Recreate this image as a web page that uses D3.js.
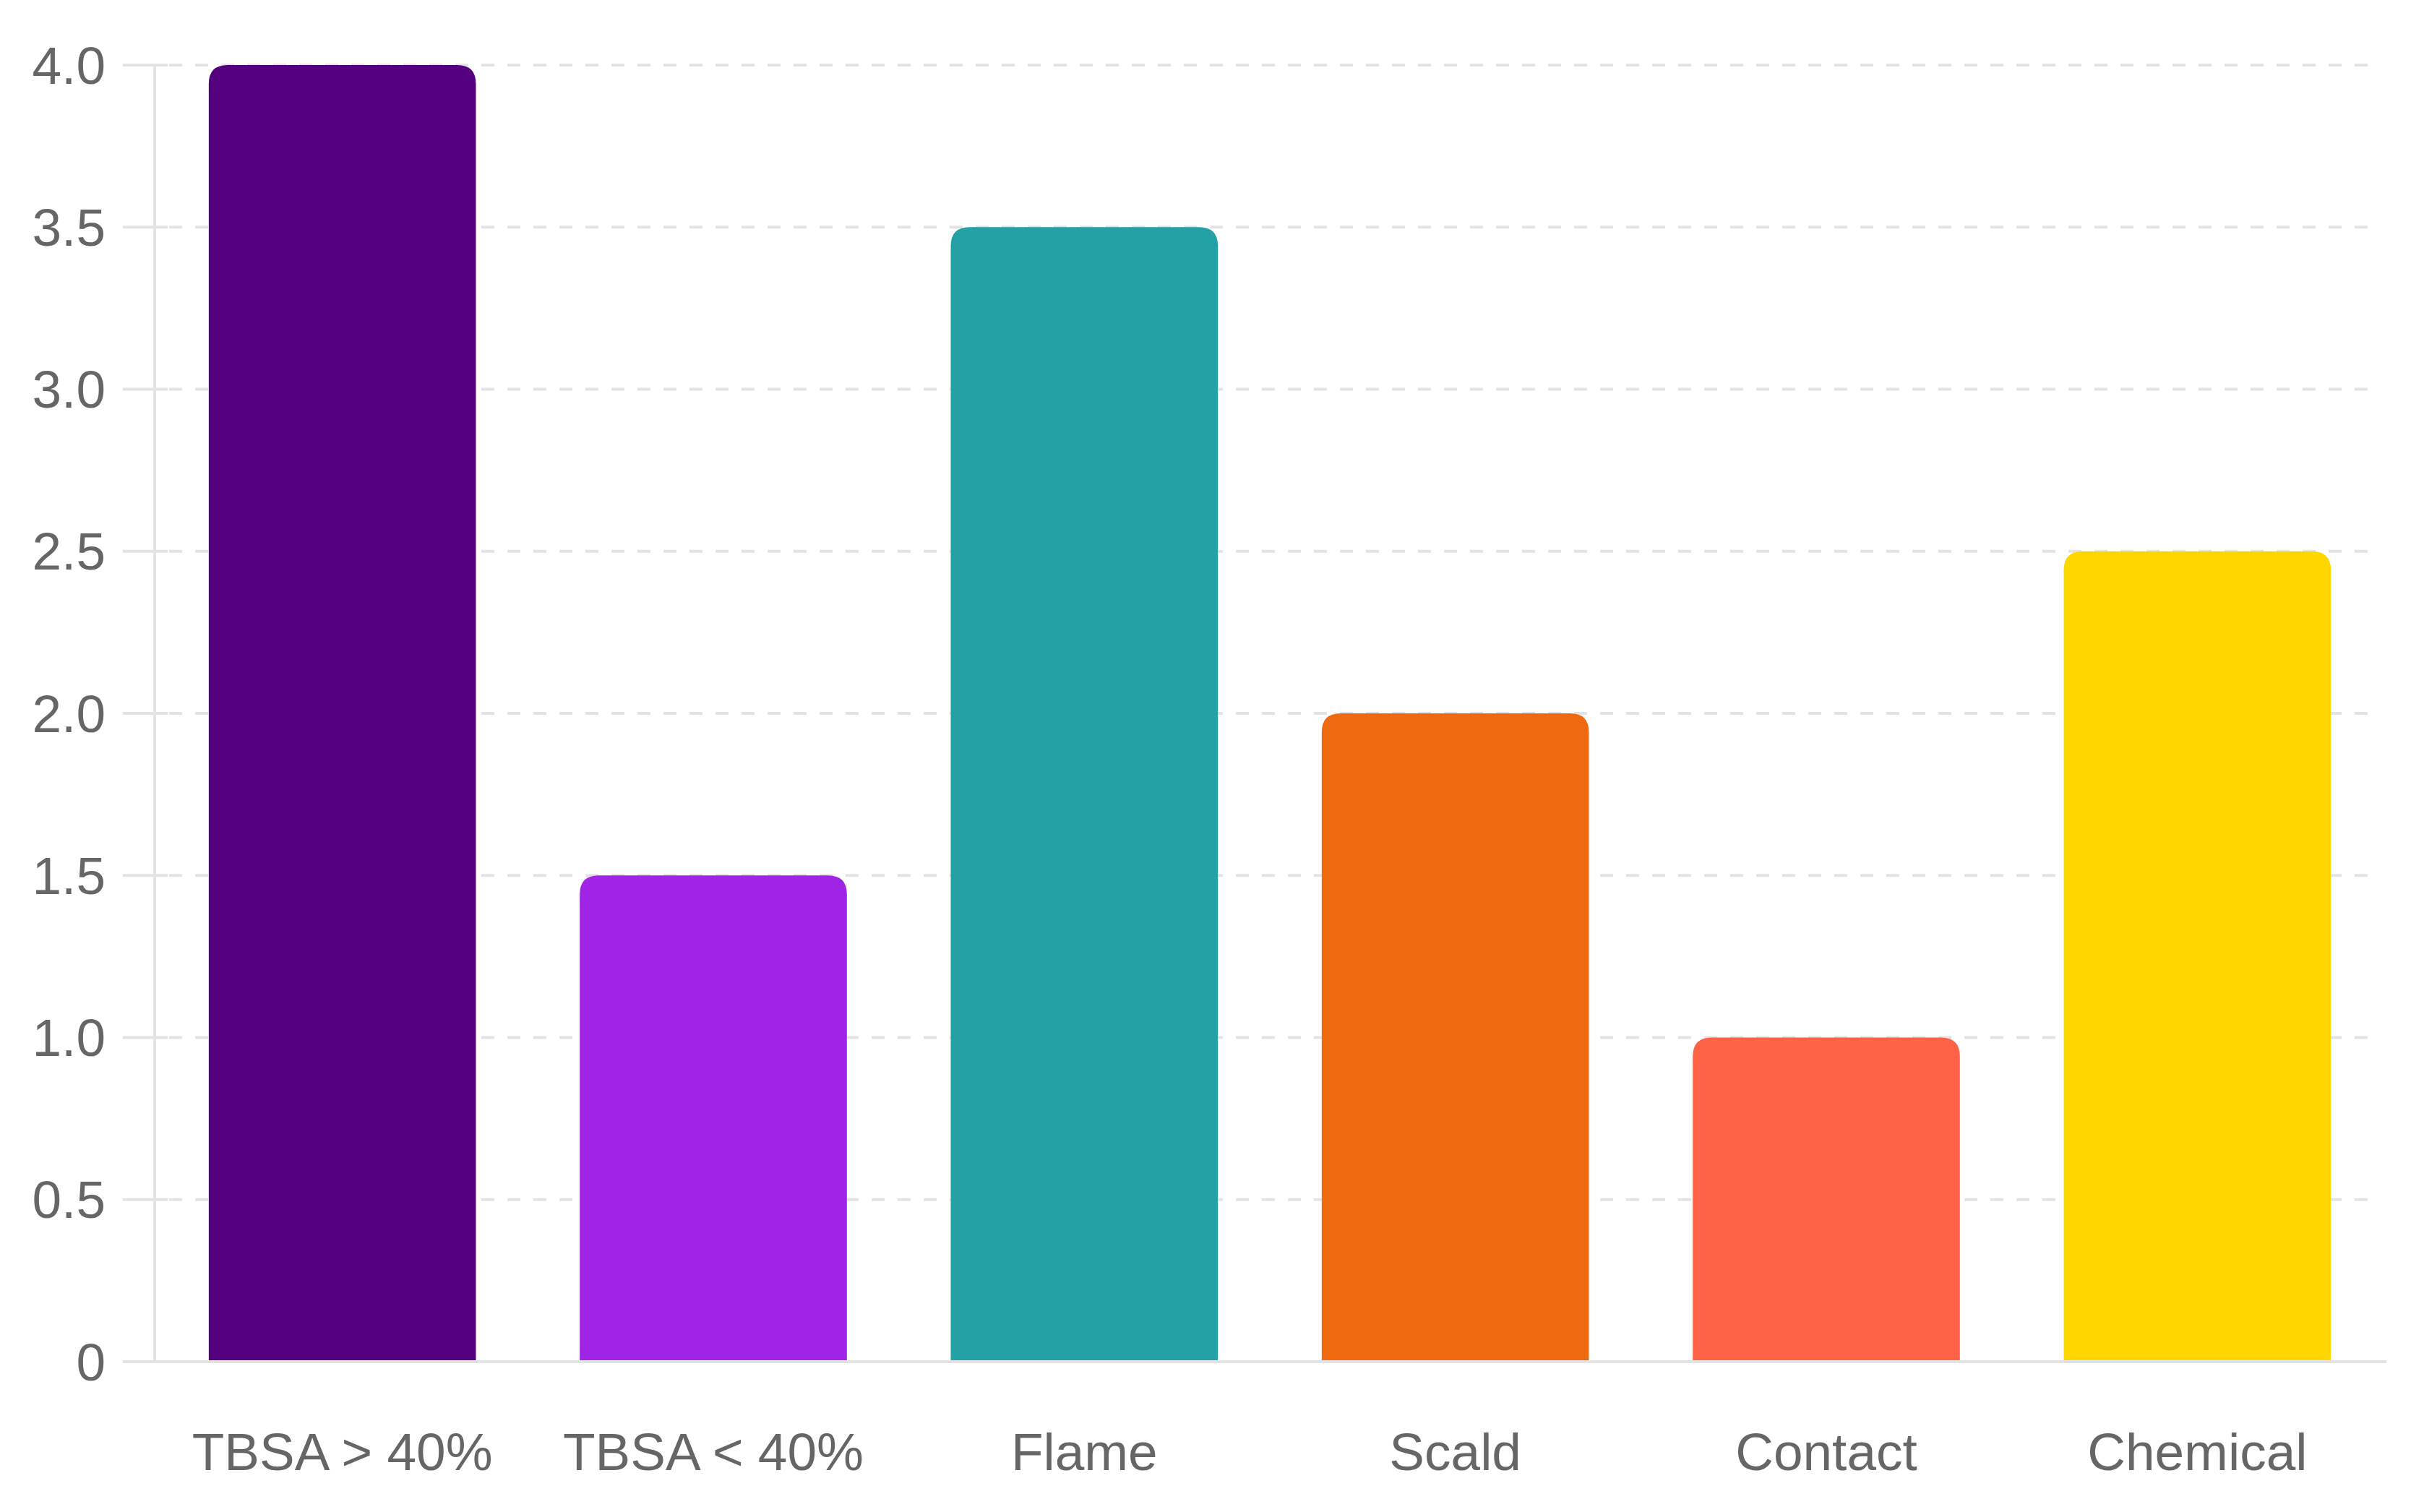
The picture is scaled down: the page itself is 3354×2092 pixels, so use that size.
<!DOCTYPE html>
<html>
<head>
<meta charset="utf-8">
<script src="https://cdn.jsdelivr.net/npm/d3@7"></script>
<style>
  html, body { margin: 0; padding: 0; background: #ffffff; }
  #chart { width: 3354px; height: 2092px; }
  text { font-family: "Liberation Sans", Arial, sans-serif; }
</style>
</head>
<body>
<div id="chart"></div>
<script>
const categories = ["TBSA > 40%", "TBSA < 40%", "Flame", "Scald", "Contact", "Chemical"];
const values = [4.0, 1.5, 3.5, 2.0, 1.0, 2.5];
const barColors = ["#55007f", "#a024e6", "#23a1a4", "#ef690f", "#ff6347", "#ffd700"];
const yTicks = [0, 0.5, 1.0, 1.5, 2.0, 2.5, 3.0, 3.5, 4.0];

const width = 3354;
const height = 2092;
const margin = {top: 90, right: 58, bottom: 208, left: 214};

const svg = d3.select("#chart")
    .append("svg")
    .attr("width", width)
    .attr("height", height);

const x = d3.scaleBand()
    .domain(categories)
    .range([margin.left + 3, 3297])
    .paddingInner(0)
    .paddingOuter(0);

const y = d3.scaleLinear()
    .domain([0, 4])
    .range([height - margin.bottom, margin.top]);

const barW = x.bandwidth() * 0.72;

// grid lines
svg.append("g")
    .selectAll("line")
    .data(yTicks.filter(d => d > 0))
    .join("line")
    .attr("x1", margin.left)
    .attr("x2", 3294)
    .attr("y1", d => y(d))
    .attr("y2", d => y(d))
    .attr("stroke", "#e3e3e3")
    .attr("stroke-width", 4)
    .attr("stroke-dasharray", "18 18")
    .attr("stroke-dashoffset", -20);

// y ticks (short solid marks left of axis)
svg.append("g")
    .selectAll("line")
    .data(yTicks)
    .join("line")
    .attr("x1", margin.left - 44)
    .attr("x2", margin.left + 18)
    .attr("y1", d => y(d))
    .attr("y2", d => y(d))
    .attr("stroke", "#e3e3e3")
    .attr("stroke-width", 4);

// bars with rounded tops
function barPath(x0, y0, w, h, r) {
    r = Math.min(r, h, w / 2);
    return `M${x0},${y0 + h}
            L${x0},${y0 + r}
            Q${x0},${y0} ${x0 + r},${y0}
            L${x0 + w - r},${y0}
            Q${x0 + w},${y0} ${x0 + w},${y0 + r}
            L${x0 + w},${y0 + h} Z`;
}

svg.append("g")
    .selectAll("path")
    .data(categories)
    .join("path")
    .attr("d", (c, i) => {
        const x0 = x(c) + (x.bandwidth() - barW) / 2;
        const y0 = y(values[i]);
        return barPath(x0, y0, barW, y(0) - y0, 26);
    })
    .attr("fill", (c, i) => barColors[i]);

// axis lines
svg.append("line")
    .attr("x1", margin.left).attr("x2", margin.left)
    .attr("y1", y(4) - 2).attr("y2", y(0))
    .attr("stroke", "#e3e3e3").attr("stroke-width", 4);

svg.append("line")
    .attr("x1", margin.left).attr("x2", 3302)
    .attr("y1", y(0)).attr("y2", y(0))
    .attr("stroke", "#e3e3e3").attr("stroke-width", 4);

// y labels
svg.append("g")
    .selectAll("text")
    .data(yTicks)
    .join("text")
    .attr("x", 146)
    .attr("y", d => y(d))
    .attr("dy", "0.35em")
    .attr("text-anchor", "end")
    .attr("fill", "#666666")
    .style("font-size", "73px")
    .text(d => d === 0 ? "0" : d.toFixed(1));

// x labels
svg.append("g")
    .selectAll("text")
    .data(categories)
    .join("text")
    .attr("x", c => x(c) + x.bandwidth() / 2)
    .attr("y", 2034)
    .attr("text-anchor", "middle")
    .attr("fill", "#666666")
    .style("font-size", "73px")
    .text(c => c);
</script>
</body>
</html>
